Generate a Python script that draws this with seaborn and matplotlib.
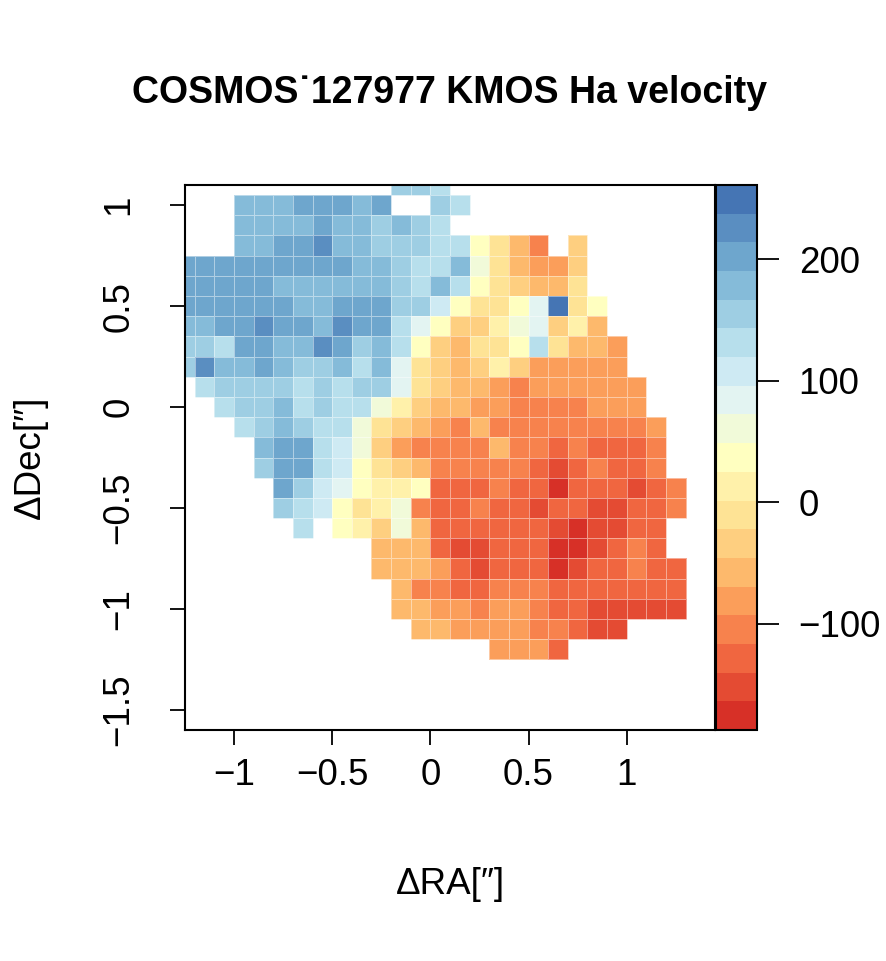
import numpy as np
import pandas as pd
import seaborn as sns
import matplotlib
matplotlib.use("Agg")
import matplotlib.pyplot as plt
from matplotlib.colors import ListedColormap

N = None

# velocity map [km/s], rows from top (dDec = 1.1) down to dDec = -1.2,
# columns from dRA = -1.25 to dRA = 1.25 in 0.1" steps
vel_rows = [
    [N]*11 + [155, 155, 131] + [N]*12,
    [N, N, N, 178, 178, 178, 202, 202, 202, 178, 202, N, N, 155, 131] + [N]*11,
    [N, N, N, 178, 178, 178, 178, 202, 178, 178, 155, 178, 155, 131] + [N]*12,
    [N, N, N, 178, 178, 202, 202, 226, 178, 178, 155, 155, 155, 131, 131,
     37, -10, -58, -105, N, -34] + [N]*5,
    [202]*9 + [178, 178, 155, 131, 131, 178, 60, -10, -58, -81, -81, -34] + [N]*5,
    [202]*5 + [178]*6 + [155, 131, 178, 131, 37, -10, -34, -58, -58, -10] + [N]*5,
    [202]*6 + [178, 178, 202, 202, 202, 155, 155, 108, 37, -10, -10, 37, 84, 249,
               -10, 37] + [N]*4,
    [178, 178, 202, 202, 226, 202, 202, 178, 226, 202, 202, 131, 84, 37, -34, -34,
     13, 60, 84, -34, 13, -58] + [N]*4,
    [155, 155, 131, 202, 202, 178, 178, 226, 202, 155, 178, 131, 37, -34, -58, -10,
     -10, 37, 131, -10, -58, -58, -81] + [N]*3,
    [155, 226, 178, 178, 202, 178, 155, 155, 178, 131, 178, 84, -10, -34, -58, -34,
     13, -34, -81, -81, -81, -81, -81] + [N]*3,
    [N, 131, 155, 155, 155, 155, 131, 155, 131, 155, 155, 84, -10, -34, -58, -58,
     -81, -105, -81, -81, -81, -81, -81, -81] + [N]*2,
    [N, N, 131, 155, 155, 178, 131, 155, 131, 131, 60, 13, -34, -58, -58, -81,
     -81, -105, -105, -105, -105, -81, -81, -81] + [N]*2,
    [N, N, N, 131, 155, 178, 155, 131, 131, 60, -10, -34, -58, -81, -105, -58,
     -105, -105, -105, -105, -105, -105, -105, -105, -81, N],
    [N]*4 + [178, 202, 202, 131, 108, 60, -34, -81, -105, -105, -105, -105, -58,
             -105, -105, -128, -105, -128, -128, -128, -105, N],
    [N]*4 + [155, 202, 202, 131, 108, 37, -10, -34, -58, -105, -105, -105, -105,
             -105, -128, -152, -128, -105, -128, -128, -105, N],
    [N]*5 + [202, 155, 108, 84, 37, 13, 13, 37, -128, -128, -128, -105, -128,
             -128, -176, -128, -128, -128, -152, -128, -105],
    [N]*5 + [155, 131, 108, 37, -10, 13, 60, -105, -128, -128, -105, -128, -128,
             -152, -128, -128, -152, -152, -128, -128, -105],
    [N]*6 + [131, N, 37, 13, -34, 60, -58, -128, -128, -128, -128, -128, -128,
             -152, -176, -152, -152, -128, -128, N],
    [N]*10 + [-58, -58, -58, -128, -152, -152, -128, -128, -128, -176, -176, -152,
              -128, -105, -128, N],
    [N]*10 + [-58, -58, -58, -81, -128, -152, -128, -128, -128, -176, -152, -128,
              -128, -105, -128, -128],
    [N]*11 + [-58, -105, -105, -128, -128, -105, -105, -105, -128, -128, -128,
              -128, -128, -128, -128],
    [N]*11 + [-58, -58, -81, -81, -105, -81, -81, -105, -128, -128, -152, -152,
              -152, -152, -152],
    [N]*12 + [-58, -58, -81, -81, -81, -81, -105, -105, -128, -152, -152] + [N]*3,
    [N]*16 + [-81, -81, -81, -128] + [N]*6,
]
ra_centers = [round(-1.25 + 0.1 * i, 2) for i in range(26)]
dec_centers = [round(1.1 - 0.1 * i, 2) for i in range(24)]

vmin, vmax = -187.4, 261.2
cbar_ticks = [-100, 0, 100, 200]
cbar_labels = ["\u2212100", "0", "100", "200"]
x_ticks = [-1, -0.5, 0, 0.5, 1]
x_labels = ["\u22121", "\u22120.5", "0", "0.5", "1"]
y_ticks = [1, 0.5, 0, -0.5, -1, -1.5]
y_labels = ["1", "0.5", "0", "\u22120.5", "\u22121", "\u22121.5"]

df = pd.DataFrame(np.array(vel_rows, dtype=float), index=dec_centers, columns=ra_centers)

sns.set_style("ticks")
plt.rcParams["font.family"] = ["Liberation Sans", "DejaVu Sans"]
plt.rcParams["text.color"] = "black"
plt.rcParams["xtick.color"] = "black"
plt.rcParams["ytick.color"] = "black"
plt.rcParams["axes.labelcolor"] = "black"

brewer = ["#D73027", "#F46D43", "#FDAE61", "#FEE090", "#FFFFBF",
          "#E0F3F8", "#ABD9E9", "#74ADD1", "#4575B4"]
cmap = ListedColormap(sns.blend_palette(brewer, 19))

fig = plt.figure(figsize=(8.86, 9.61), dpi=100)
W, H = 886, 961
ax = fig.add_axes([185 / W, (H - 730) / H, 530 / W, 545 / H])
cax = fig.add_axes([716 / W, (H - 730) / H, 41 / W, 545 / H])

sns.heatmap(df, ax=ax, cbar_ax=cax, cmap=cmap, vmin=vmin, vmax=vmax,
            linewidths=0.6, linecolor=(1, 1, 1, 0.45),
            xticklabels=False, yticklabels=False)

# heatmap cell coords -> sky offsets
x0, y0, step = -1.3, 1.15, 0.1
ax.set_xlim((-1.25 - x0) / step, (1.45 - x0) / step)
ax.set_ylim((y0 + 1.6) / step, (y0 - 1.1) / step)
ax.set_xticks([(v - x0) / step for v in x_ticks])
ax.set_xticklabels(x_labels)
ax.set_yticks([(y0 - v) / step for v in y_ticks])
ax.set_yticklabels(y_labels, rotation=90, va="center")
ax.set_xlabel("")
ax.set_ylabel("")
ax.tick_params(axis="x", bottom=True, length=11, width=1.3, pad=9,
               labelsize=26.5, colors="black")
ax.tick_params(axis="y", left=True, length=11, width=1.3, pad=24,
               labelsize=26.5, colors="black")
for s in ax.spines.values():
    s.set_visible(True)
    s.set_linewidth(1.5)
    s.set_color("black")

cb = ax.collections[0].colorbar
cb.set_ticks(cbar_ticks)
cb.set_ticklabels(cbar_labels)
cb.outline.set_visible(True)
cb.outline.set_linewidth(1.5)
cb.outline.set_edgecolor("black")
cax.tick_params(length=16, width=1.3, pad=14, labelsize=26.5, colors="black")

fig.text(450 / W, 1 - 93 / H, "COSMOS\u02d9127977 KMOS Ha velocity",
         ha="center", va="center", fontsize=27, fontweight="bold", color="black")
fig.text(450 / W, 1 - 885 / H, "\u0394RA[\u2033]", ha="center", va="center",
         fontsize=26.5, color="black")
fig.text(30 / W, 1 - 457 / H, "\u0394Dec[\u2033]", ha="center", va="center",
         rotation=90, fontsize=26.5, color="black")

fig.savefig("out.png", dpi=100, facecolor="white")
